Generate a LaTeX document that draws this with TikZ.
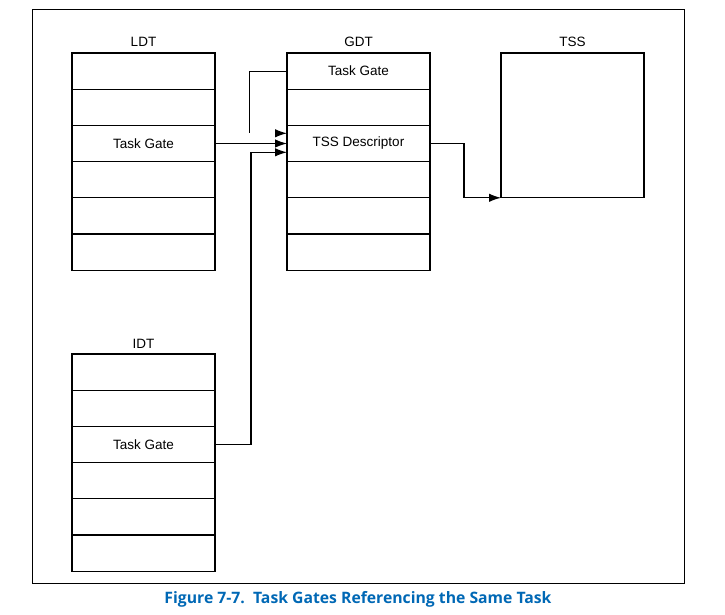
\documentclass[tikz,border=0pt]{standalone}
\usepackage{fontspec}
\setmainfont{Liberation Sans}
\newfontfamily\capfont{Open Sans}
\usetikzlibrary{arrows.meta}
\definecolor{capblue}{RGB}{0,104,181}
\begin{document}
\begin{tikzpicture}[x=1pt,y=-1pt,
  every node/.style={font=\fontsize{13.5}{16}\selectfont, inner sep=0pt, outer sep=0pt},
  row/.style={draw, line width=1.2pt, minimum width=143pt, minimum height=36.2pt, anchor=north west},
  wire/.style={line width=1.2pt},
  arr/.style={line width=1.2pt, -{Latex[length=12pt,width=8.5pt]}}]
\useasboundingbox (0,0) rectangle (725,614);
\draw[line width=1.2pt] (32.3,9.3) rectangle (684.3,583.3);
% LDT
\node[row] (ldt1) at (72,53) {};
\node[row] (ldt2) at (ldt1.south west) {};
\node[row] (ldt3) at (ldt2.south west) {Task Gate};
\node[row] (ldt4) at (ldt3.south west) {};
\node[row] (ldt5) at (ldt4.south west) {};
\node[row] (ldt6) at (ldt5.south west) {};
\node (ldtl) at (143.5,42) {LDT};
% GDT
\node[row] (gdt1) at (287,53) {Task Gate};
\node[row] (gdt2) at (gdt1.south west) {};
\node[row] (gdt3) at (gdt2.south west) {TSS Descriptor};
\node[row] (gdt4) at (gdt3.south west) {};
\node[row] (gdt5) at (gdt4.south west) {};
\node[row] (gdt6) at (gdt5.south west) {};
\node (gdtl) at (358.5,42) {GDT};
% TSS
\node[draw, line width=1.2pt, minimum width=143pt, minimum height=144.8pt, anchor=north west] (tss) at (501,53) {};
\node (tssl) at (572.5,42) {TSS};
% IDT
\node[row] (idt1) at (72,354) {};
\node[row] (idt2) at (idt1.south west) {};
\node[row] (idt3) at (idt2.south west) {Task Gate};
\node[row] (idt4) at (idt3.south west) {};
\node[row] (idt5) at (idt4.south west) {};
\node[row] (idt6) at (idt5.south west) {};
\node (idtl) at (143.5,344) {IDT};
% connectors
\coordinate (c1) at (249.3,133.3);
\coordinate (c1h) at (275,133.3);
\coordinate (c1t) at (287,133.3);
\draw[wire] (gdt1.west) -| (c1);
\draw[arr] (c1h) -- (c1t);
\draw[arr] (ldt3.east) -- (gdt3.west);
\coordinate (c3) at (287,152.3);
\draw[arr] (idt3.east) -- ++(36,0) |- (c3);
\draw[arr] (gdt3.east) -- ++(34,0) |- (tss.south west);
% caption
\node[text=capblue] (cap) at (358,599) {\resizebox{387pt}{!}{\capfont\bfseries Figure 7-7.\ \ Task Gates Referencing the Same Task}};
\end{tikzpicture}
\end{document}
